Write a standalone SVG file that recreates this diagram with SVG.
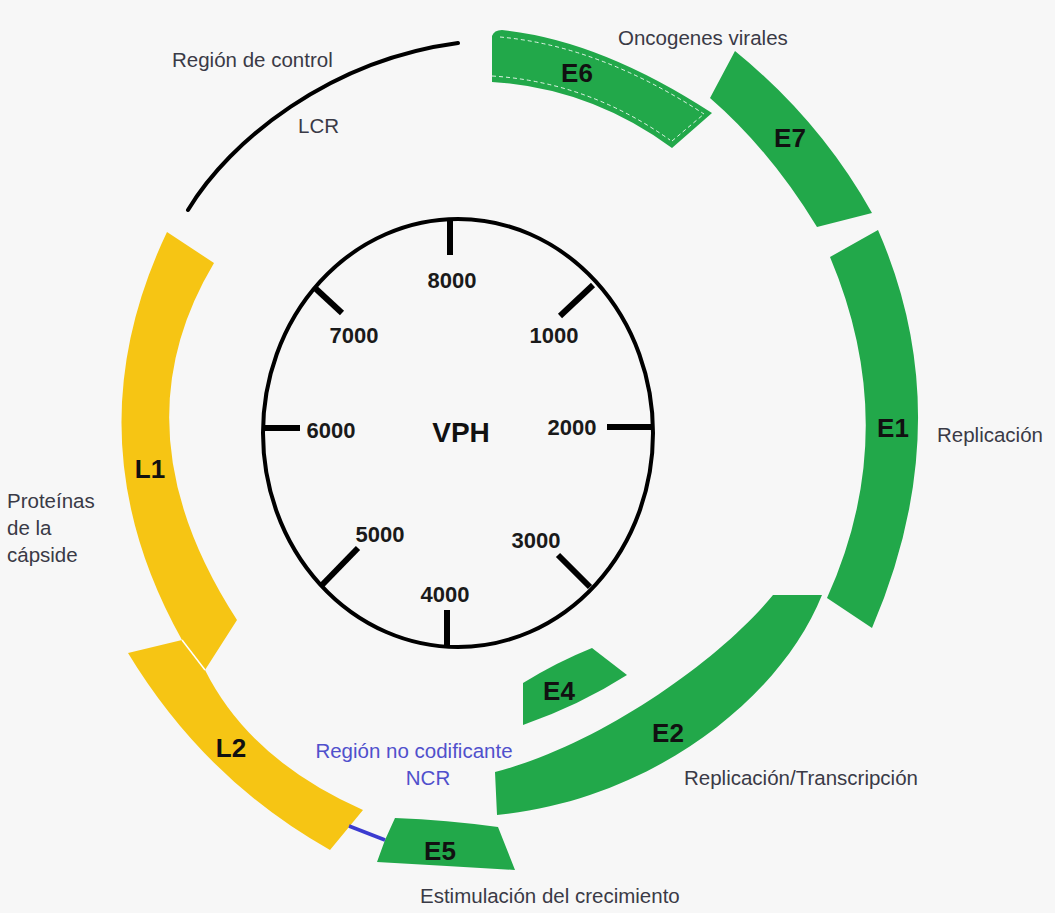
<svg xmlns="http://www.w3.org/2000/svg" width="1055" height="913" viewBox="0 0 1055 913">
<style>
.green{fill:#22a84a}
.yellow{fill:#f6c514}
.seg{font-family:"Liberation Sans",Arial,sans-serif;font-weight:bold;font-size:26px;fill:#111;text-anchor:middle}
.num{font-family:"Liberation Sans",Arial,sans-serif;font-weight:bold;font-size:22px;fill:#1a1a1a;text-anchor:middle}
.lbl{font-family:"Liberation Sans",Arial,sans-serif;font-size:20.5px;fill:#3a3a46}
.blue{font-family:"Liberation Sans",Arial,sans-serif;font-size:20.5px;fill:#5050cc;text-anchor:middle}
.tick{stroke:#000;stroke-width:6;fill:none}
</style>
<rect width="1055" height="913" fill="#f7f7f7"/>

<g id="map">
  <ellipse cx="458" cy="433" rx="195" ry="214" fill="none" stroke="#000" stroke-width="4"/>
  <line class="tick" x1="450" y1="219" x2="450" y2="255"/>
  <line class="tick" x1="593" y1="285" x2="560" y2="316"/>
  <line class="tick" x1="607" y1="427" x2="653" y2="427"/>
  <line class="tick" x1="558" y1="555" x2="590" y2="587"/>
  <line class="tick" x1="447" y1="610" x2="447" y2="647"/>
  <line class="tick" x1="358" y1="548" x2="322" y2="585"/>
  <line class="tick" x1="263" y1="428" x2="300" y2="428"/>
  <line class="tick" x1="315" y1="288" x2="342" y2="313"/>
  <text class="num" x="452" y="288">8000</text>
  <text class="num" x="554" y="343">1000</text>
  <text class="num" x="572" y="435">2000</text>
  <text class="num" x="536" y="548">3000</text>
  <text class="num" x="445" y="602">4000</text>
  <text class="num" x="380" y="542">5000</text>
  <text class="num" x="331" y="438">6000</text>
  <text class="num" x="354" y="343">7000</text>
  <text x="461" y="442" font-family="Liberation Sans, Arial, sans-serif" font-weight="bold" font-size="28" fill="#111" text-anchor="middle">VPH</text>
</g>

<g id="LCR">
  <path d="M188,210 C230,140 330,60 458,43" fill="none" stroke="#000" stroke-width="4" stroke-linecap="round"/>
  <text class="lbl" x="172" y="67">Región de control</text>
  <text class="lbl" x="298" y="133">LCR</text>
</g>

<g id="E6">
  <path class="green" d="M492,36 Q494,30 502,30 Q600,40 712,113 L672,148 Q590,88 492,82 Z"/>
  <path d="M500,37 Q600,46 704,114 M672,141 L704,114 M492,76 Q588,82 670,140" fill="none" stroke="#fff" stroke-width="1" stroke-dasharray="4,3" opacity="0.85"/>
  <text class="seg" x="577" y="82">E6</text>
  <text class="lbl" x="618" y="45">Oncogenes virales</text>
</g>

<g id="E7">
  <path class="green" d="M735,51 Q820,120 872,213 L817,227 Q770,150 710,98 Z"/>
  <text class="seg" x="790" y="147">E7</text>
</g>

<g id="E1">
  <path class="green" d="M878,230 Q961,420 872,628 L827,598 Q903,430 830,257 Z"/>
  <text class="seg" x="893" y="437">E1</text>
  <text class="lbl" x="937" y="442">Replicación</text>
</g>

<g id="E2">
  <path class="green" d="M822,595 C780,700 650,800 497,815 L495,772 C600,745 720,660 773,595 Z"/>
  <text class="seg" x="668" y="742">E2</text>
  <text class="lbl" x="684" y="785">Replicación/Transcripción</text>
</g>

<g id="E4">
  <path class="green" d="M523,683 Q557,662 592,648 L627,675 Q580,705 523,725 Z"/>
  <text class="seg" x="559" y="700">E4</text>
</g>

<g id="E5">
  <path class="green" d="M395,818 Q447,820 498,827 L515,870 Q447,866 377,862 L385,840 Z"/>
  <text class="seg" x="440" y="860">E5</text>
  <text class="lbl" x="420" y="903">Estimulación del crecimiento</text>
</g>

<g id="L2">
  <path class="yellow" d="M128,653 L182,640 L205,670 Q250,760 363,810 L330,850 Q205,780 128,653 Z"/>
  <text class="seg" x="231" y="757">L2</text>
</g>

<g id="L1">
  <path class="yellow" d="M167,232 L214,263 Q114,430 237,620 L205,670 L182,640 Q69,438 167,232 Z"/>
  <line x1="182" y1="640" x2="205" y2="670" stroke="#fff" stroke-width="1.5"/>
  <text class="seg" x="150" y="478">L1</text>
  <text class="lbl" x="7" y="508">Proteínas</text>
  <text class="lbl" x="7" y="535">de la</text>
  <text class="lbl" x="7" y="562">cápside</text>
</g>

<g id="NCR">
  <text class="blue" x="414" y="758">Región no codificante</text>
  <text class="blue" x="428" y="785">NCR</text>
</g>

<g id="connectors">
  <line x1="349" y1="826" x2="385" y2="840" stroke="#3b3bd0" stroke-width="3.5"/>
</g>
</svg>
